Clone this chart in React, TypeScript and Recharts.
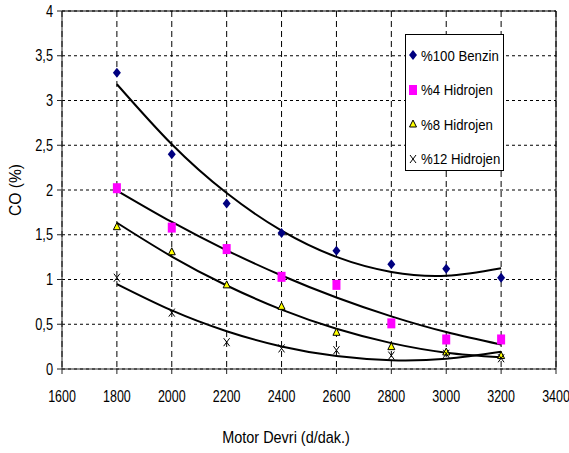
import React from 'react';
import {
  ComposedChart,
  Scatter,
  Line,
  XAxis,
  YAxis,
  CartesianGrid,
  ReferenceLine,
  Legend,
  Label,
} from 'recharts';

const rpm = [1800, 2000, 2200, 2400, 2600, 2800, 3000, 3200];
const benzin100 = [3.31, 2.4, 1.85, 1.52, 1.32, 1.17, 1.12, 1.02];
const hidrojen4 = [2.02, 1.58, 1.34, 1.03, 0.94, 0.51, 0.33, 0.33];
const hidrojen8 = [1.59, 1.31, 0.94, 0.7, 0.41, 0.25, 0.19, 0.15];
const hidrojen12 = [1.02, 0.63, 0.3, 0.23, 0.21, 0.15, 0.17, 0.12];

const xTicks = [1600, 1800, 2000, 2200, 2400, 2600, 2800, 3000, 3200, 3400];
const yTicks = [0, 0.5, 1, 1.5, 2, 2.5, 3, 3.5, 4];

const FONT = '"Liberation Sans", Arial, sans-serif';

// 2nd order least-squares trend, like the spreadsheet polynomial trendline
const polyFit2 = (xs: number[], ys: number[]) => {
  const n = xs.length;
  let s1 = 0, s2 = 0, s3 = 0, s4 = 0, sy = 0, sxy = 0, sx2y = 0;
  xs.forEach((x0, i) => {
    const x = (x0 - 2500) / 1000;
    const y = ys[i];
    s1 += x; s2 += x * x; s3 += x * x * x; s4 += x * x * x * x;
    sy += y; sxy += x * y; sx2y += x * x * y;
  });
  const m = [
    [n, s1, s2, sy],
    [s1, s2, s3, sxy],
    [s2, s3, s4, sx2y],
  ];
  for (let c = 0; c < 3; c++) {
    for (let r = c + 1; r < 3; r++) {
      const f = m[r][c] / m[c][c];
      for (let k = c; k < 4; k++) m[r][k] -= f * m[c][k];
    }
  }
  const coef = [0, 0, 0];
  for (let r = 2; r >= 0; r--) {
    let v = m[r][3];
    for (let k = r + 1; k < 3; k++) v -= m[r][k] * coef[k];
    coef[r] = v / m[r][r];
  }
  return (x0: number) => {
    const x = (x0 - 2500) / 1000;
    return coef[0] + coef[1] * x + coef[2] * x * x;
  };
};

const fB = polyFit2(rpm, benzin100);
const f4 = polyFit2(rpm, hidrojen4);
const f8 = polyFit2(rpm, hidrojen8);
const f12 = polyFit2(rpm, hidrojen12);

const data = rpm.map((r, i) => ({
  rpm: r,
  benzin100: benzin100[i],
  hidrojen4: hidrojen4[i],
  hidrojen8: hidrojen8[i],
  hidrojen12: hidrojen12[i],
  tB: fB(r),
  t4: f4(r),
  t8: f8(r),
  t12: f12(r),
}));

const Diamond = ({ cx, cy }: any) => (
  <polygon points={`${cx},${cy - 5} ${cx + 4},${cy} ${cx},${cy + 5} ${cx - 4},${cy}`} fill="#000080" />
);
const Square = ({ cx, cy }: any) => <rect x={cx - 4} y={cy - 5} width={8} height={10} fill="#ff00ff" />;
const Triangle = ({ cx, cy }: any) => (
  <polygon
    points={`${cx},${cy - 4} ${cx + 3.5},${cy + 3} ${cx - 3.5},${cy + 3}`}
    fill="#ffff00"
    stroke="#000"
    strokeWidth={1}
  />
);
const Cross = ({ cx, cy }: any) => (
  <g stroke="#000" strokeWidth={1}>
    <line x1={cx - 3} y1={cy - 4} x2={cx + 3} y2={cy + 4} />
    <line x1={cx + 3} y1={cy - 4} x2={cx - 3} y2={cy + 4} />
  </g>
);

const series = [
  { key: 'benzin100', trend: 'tB', name: '%100 Benzin', Shape: Diamond },
  { key: 'hidrojen4', trend: 't4', name: '%4 Hidrojen', Shape: Square },
  { key: 'hidrojen8', trend: 't8', name: '%8 Hidrojen', Shape: Triangle },
  { key: 'hidrojen12', trend: 't12', name: '%12 Hidrojen', Shape: Cross },
];

// narrow-looking text: regular face squeezed horizontally
const NarrowText = ({ x, y, anchor, size, sx, dy, children }: any) => (
  <g transform={`translate(${x},${y}) scale(${sx},1)`}>
    <text x={0} y={0} dy={dy} textAnchor={anchor} fontSize={size} fontFamily={FONT} fill="#000">
      {children}
    </text>
  </g>
);

const XTick = ({ x, y, payload }: any) => (
  <NarrowText x={x} y={y} anchor="middle" size={16} sx={0.78} dy="0.71em">
    {payload.value}
  </NarrowText>
);

const YTick = ({ x, y, payload }: any) => (
  <NarrowText x={x} y={y} anchor="end" size={16} sx={0.8} dy="0.355em">
    {String(payload.value).replace('.', ',')}
  </NarrowText>
);

const XTitle = ({ viewBox }: any) => (
  <NarrowText x={viewBox.x + viewBox.width / 2 - 23} y={443} anchor="middle" size={17} sx={0.85} dy={0}>
    Motor Devri (d/dak.)
  </NarrowText>
);

const YTitle = () => (
  <g transform="translate(21,190) rotate(-90)">
    <text x={0} y={0} textAnchor="middle" fontSize={17} fontFamily={FONT} fill="#000" transform="scale(0.92,1)">
      CO (%)
    </text>
  </g>
);

const LegendBox = () => (
  <div
    style={{
      position: 'relative',
      width: 97,
      height: 135,
      border: '1px solid #000',
      background: '#fff',
      fontFamily: FONT,
      fontSize: 15,
      color: '#000',
    }}
  >
    {series.map((s, i) => (
      <div
        key={s.key}
        style={{ position: 'absolute', left: 0, top: 11 + i * 34.5, height: 18, display: 'flex', alignItems: 'center' }}
      >
        <svg width={15} height={18}>
          <s.Shape cx={7} cy={9} />
        </svg>
        <span style={{ display: 'inline-block', whiteSpace: 'nowrap', transform: 'scaleX(0.88)', transformOrigin: 'left center' }}>
          {s.name}
        </span>
      </div>
    ))}
  </div>
);

const App = () => (
  <div style={{ position: 'absolute', left: 0, top: 0, background: '#fff' }}>
    <ComposedChart width={569} height={453} data={data} margin={{ top: 11, right: 13, left: 5, bottom: 9 }}>
      <CartesianGrid horizontal={false} stroke="#000" strokeDasharray="6 4" />
      <CartesianGrid vertical={false} stroke="#000" strokeDasharray="3 3" />
      <XAxis
        dataKey="rpm"
        type="number"
        domain={[1600, 3400]}
        ticks={xTicks}
        interval={0}
        height={75}
        tickSize={5}
        tickMargin={17}
        stroke="#222"
        tick={<XTick />}
      >
        <Label content={<XTitle />} />
      </XAxis>
      <YAxis
        type="number"
        domain={[0, 4]}
        ticks={yTicks}
        interval={0}
        width={57}
        tickSize={5}
        tickMargin={4}
        stroke="#222"
        tick={<YTick />}
      >
        <Label content={<YTitle />} />
      </YAxis>
      <ReferenceLine y={4} stroke="#000" />
      <ReferenceLine x={3400} stroke="#000" />
      {series.map((s) => (
        <Line
          key={s.trend}
          dataKey={s.trend}
          type="natural"
          stroke="#000"
          strokeWidth={2}
          dot={false}
          activeDot={false}
          isAnimationActive={false}
          legendType="none"
        />
      ))}
      {series.map((s) => (
        <Scatter key={s.key} dataKey={s.key} name={s.name} shape={<s.Shape />} isAnimationActive={false} />
      ))}
      <Legend
        layout="vertical"
        align="center"
        verticalAlign="middle"
        content={() => <LegendBox />}
        wrapperStyle={{ left: 405, top: 34, width: 99, height: 137 }}
      />
    </ComposedChart>
  </div>
);

export default App;
